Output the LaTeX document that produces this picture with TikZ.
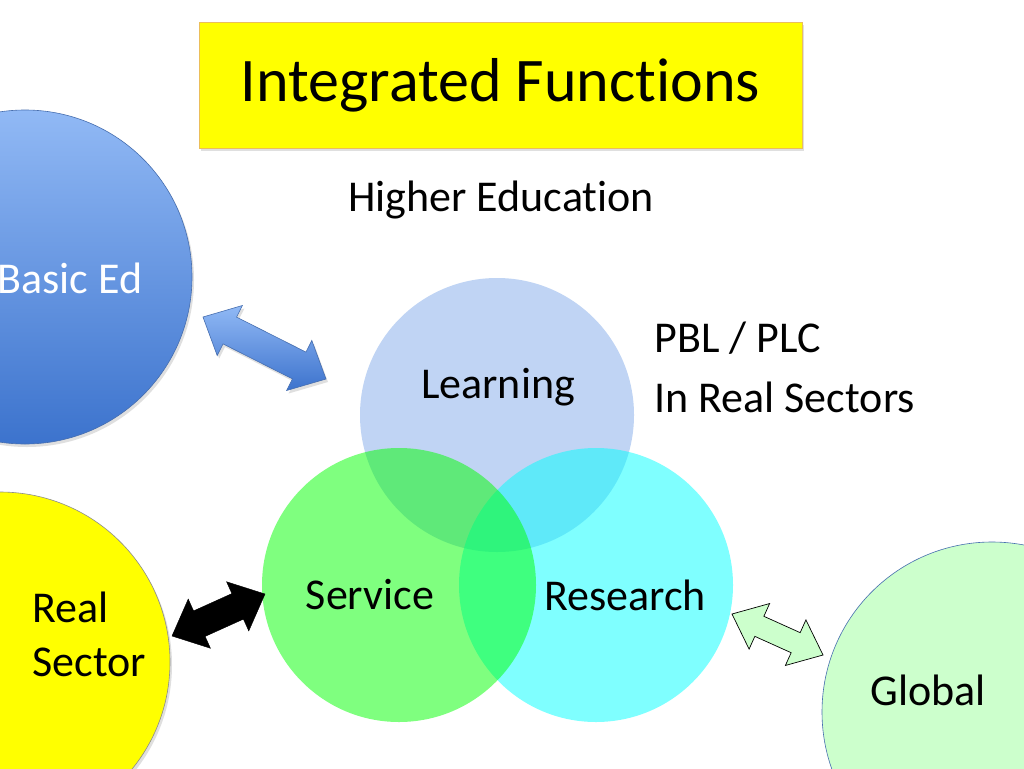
\documentclass[tikz,border=0pt]{standalone}
\usepackage{fontspec}
\setmainfont{Carlito}[Ligatures={NoCommon}]
\usetikzlibrary{calc,shadows}
\definecolor{learnC}{RGB}{192,212,244}
\definecolor{globC}{RGB}{204,255,204}
\definecolor{edgeB}{RGB}{70,110,175}
\definecolor{blueTop}{RGB}{145,185,245}
\definecolor{blueBot}{RGB}{60,115,205}
\definecolor{titleEdge}{RGB}{235,190,90}
\definecolor{pureYellow}{RGB}{255,255,0}
\definecolor{pureCyan}{RGB}{0,255,255}
\definecolor{pureGreen}{RGB}{0,255,0}
% style, start, end, head length, shaft half width, head half width
\newcommand\blockarr[6]{%
  \draw[#1] (#2)
    -- ($(#2)!#4!(#3)!#6!90:(#3)$)
    -- ($(#2)!#4!(#3)!#5!90:(#3)$)
    -- ($(#3)!#4!(#2)!#5!-90:(#2)$)
    -- ($(#3)!#4!(#2)!#6!-90:(#2)$)
    -- (#3)
    -- ($(#3)!#4!(#2)!#6!90:(#2)$)
    -- ($(#3)!#4!(#2)!#5!90:(#2)$)
    -- ($(#2)!#4!(#3)!#5!-90:(#3)$)
    -- ($(#2)!#4!(#3)!#6!-90:(#3)$)
    -- cycle;}
\begin{document}
\begin{tikzpicture}[x=1pt,y=-1pt,
  big/.style={font=\fontsize{44}{54}\selectfont},
  softshadow/.style={drop shadow={opacity=0.25,shadow xshift=2pt,shadow yshift=-3pt}},
  ring/.style={circle,inner sep=0pt,minimum size=#1},
  venn/.style={circle,inner sep=0pt,minimum size=274pt}]
\useasboundingbox (0,0) rectangle (1024,768);
\clip (0,0) rectangle (1024,768);
\fill[white] (0,0) rectangle (1024,768);

% title
\node[draw=titleEdge,line width=0.8pt,fill=pureYellow,minimum width=603pt,minimum height=126pt,
      softshadow,font=\fontsize{62}{70}\selectfont] (title) at (500.5,85) {Integrated Functions};
\node[big] (he) at (501,200) {Higher Education};

% outer circles
\node[ring=334pt,draw=edgeB,line width=0.6pt,top color=blueTop,bottom color=blueBot,softshadow] (basic) at (25,277) {};
\node[ring=340pt,draw=black!45,line width=0.6pt,fill=pureYellow,softshadow] (real) at (0,662) {};
\node[ring=340pt,draw=edgeB,line width=0.6pt,fill=globC,softshadow] (global) at (992,712) {};

% venn
\node[venn,fill=learnC] (learn) at (497,415) {};
\node[venn,fill=pureCyan,fill opacity=0.5] (research) at (596,585) {};
\node[venn,fill=pureGreen,fill opacity=0.5] (service) at (399,585) {};

% labels
\node[big,white] (tbasic) at (70,278) {Basic Ed};
\node[big,align=left,anchor=north west] (treal) at (29,588) {Real\\Sector};
\node[big] (tglobal) at (928,690) {Global};
\node[big] (tlearn) at (498,387) {Learning};
\node[big] (tserv) at (370,595) {Service};
\node[big] (tres) at (625,595) {Research};
\node[font=\fontsize{44}{60}\selectfont,align=left,anchor=north west] (pbl) at (651,318) {PBL / PLC\\In Real Sectors};

% block arrows
\coordinate (a1) at (203,317);
\coordinate (a2) at (326,379);
\coordinate (b1) at (172,636);
\coordinate (b2) at (265,594);
\coordinate (c1) at (732,614);
\coordinate (c2) at (823,655);
\blockarr{draw=edgeB,line width=0.6pt,top color=blueTop,bottom color=blueBot,softshadow}{a1}{a2}{30pt}{15pt}{28pt}
\blockarr{fill=black,draw=black}{b1}{b2}{30pt}{14pt}{27pt}
\blockarr{fill=globC,draw=black,line width=0.7pt}{c1}{c2}{30pt}{11pt}{25pt}
\end{tikzpicture}
\end{document}
